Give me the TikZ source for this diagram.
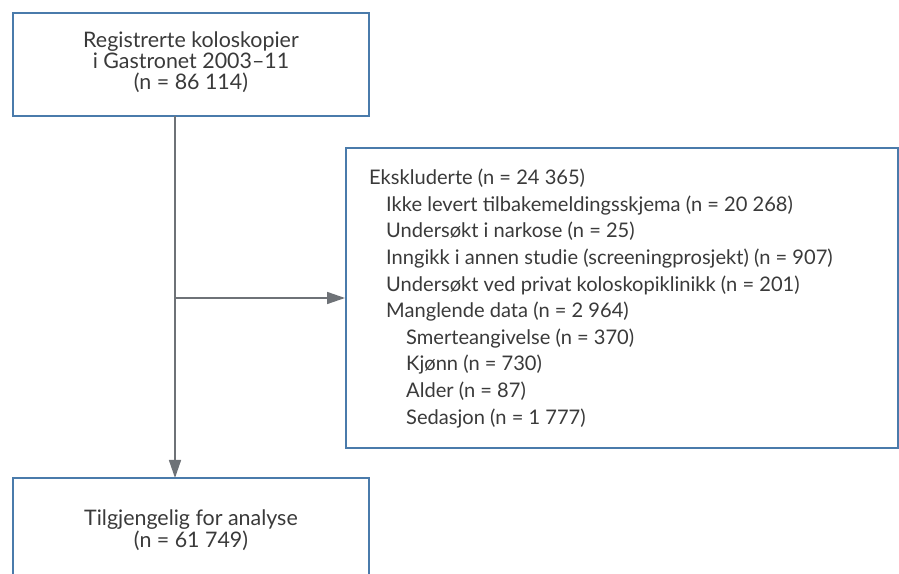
\documentclass[tikz,border=0pt]{standalone}
\usepackage{fontspec}
\setmainfont{Lato}
\usetikzlibrary{arrows.meta}
\definecolor{boxblue}{HTML}{4A7BAB}
\definecolor{linegrey}{HTML}{6E7277}
\definecolor{txtgrey}{HTML}{3A3A3A}
\tikzset{
  box/.style={draw=boxblue, line width=2pt, inner sep=0pt, fill=white},
  txt/.style={text=txtgrey, inner sep=0pt},
  conn/.style={draw=linegrey, line width=1.5pt},
  arr/.style={conn, -{Triangle[length=18pt,width=12pt]}},
}
\begin{document}
\begin{tikzpicture}[x=1pt,y=1pt]
\useasboundingbox (0,0) rectangle (899,573);
\clip (0,0) rectangle (899,573);
% boxes
\node[box, minimum width=356pt, minimum height=103pt] (reg) at (191,508.5) {};
\node[box, minimum width=552pt, minimum height=300pt] (excl) at (622,275) {};
\node[box, minimum width=356pt, minimum height=102pt] (ana) at (191,44) {};
% texts
\node[txt, align=center, font=\fontsize{21.4}{21}\selectfont] (regtxt) at (191,511) {Registrerte koloskopier\\i Gastronet 2003--11\\(n = 86 114)};
\node[txt, align=left, anchor=north west, font=\fontsize{20.1}{26.6}\selectfont] (excltxt) at (369,404) {%
Ekskluderte (n = 24 365)\\
\hspace*{17pt}Ikke levert tilbakemeldingsskjema (n = 20 268)\\
\hspace*{17pt}Undersøkt i narkose (n = 25)\\
\hspace*{17pt}Inngikk i annen studie (screeningprosjekt) (n = 907)\\
\hspace*{17pt}Undersøkt ved privat koloskopiklinikk (n = 201)\\
\hspace*{17pt}Manglende data (n = 2 964)\\
\hspace*{37pt}Smerteangivelse (n = 370)\\
\hspace*{37pt}Kjønn (n = 730)\\
\hspace*{37pt}Alder (n = 87)\\
\hspace*{37pt}Sedasjon (n = 1 777)};
\node[txt, align=center, font=\fontsize{21.4}{21.5}\selectfont] (anatxt) at (191,43) {Tilgjengelig for analyse\\(n = 61 749)};
% connectors
\coordinate (top) at (175,457);
\coordinate (mid) at (175,275);
\coordinate (bot) at (175,95);
\draw[conn] (top) -- (mid);
\draw[arr] (mid) -- (bot);
\draw[arr] (mid) -- (excl.west);
\end{tikzpicture}
\end{document}
